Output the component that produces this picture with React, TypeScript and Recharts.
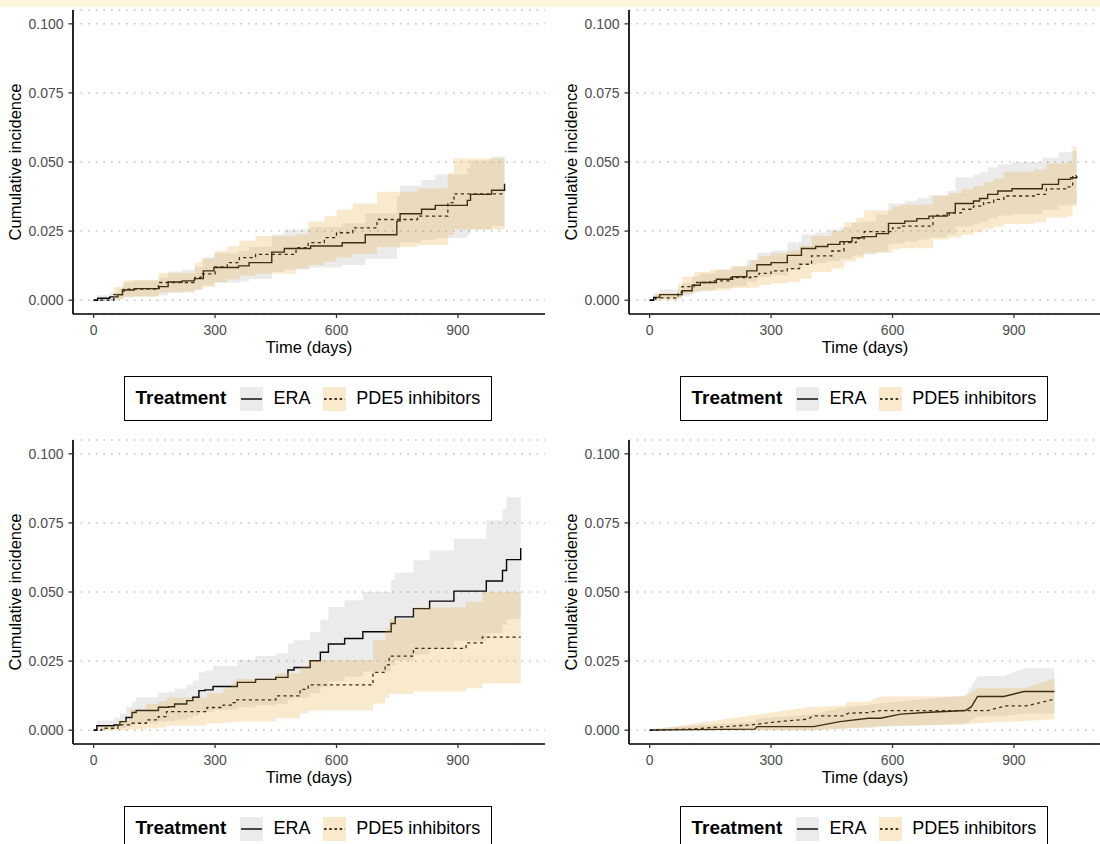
import React from 'react';
import { ComposedChart, Line, Area, XAxis, YAxis, CartesianGrid } from 'recharts';

// ---------- tick labels / axes ----------
const xTicks = [0, 300, 600, 900];
const yTicks = [0, 0.025, 0.05, 0.075, 0.1];
const seriesNames = ['ERA', 'PDE5 inhibitors'];
const legendTitle = 'Treatment';
const xTitle = 'Time (days)';
const yTitle = 'Cumulative incidence';

// ---------- Panel 1 (top left) ----------
const p1EraT = [0, 10, 40, 60, 71, 100, 162, 184, 219, 249, 271, 297, 358, 384, 440, 471, 536, 614, 671, 749, 757, 810, 844, 923, 931, 983, 1015];
const p1EraEst = [0, 0.0007, 0.0012, 0.002, 0.0037, 0.0042, 0.0049, 0.0066, 0.007, 0.0078, 0.0106, 0.0118, 0.0124, 0.0136, 0.0174, 0.0187, 0.0196, 0.0208, 0.0237, 0.0286, 0.0313, 0.0329, 0.0343, 0.0361, 0.0383, 0.0398, 0.0421];
const p1EraLo = [0, 0, 0.0001, 0.0004, 0.0011, 0.0014, 0.0018, 0.0028, 0.0031, 0.0037, 0.0055, 0.0063, 0.0068, 0.0077, 0.0102, 0.0111, 0.0118, 0.0127, 0.0149, 0.0187, 0.0208, 0.0218, 0.0225, 0.0235, 0.0255, 0.0268, 0.0285];
const p1EraHi = [0, 0.0018, 0.0028, 0.0042, 0.0065, 0.0072, 0.0082, 0.0104, 0.011, 0.012, 0.0155, 0.017, 0.0178, 0.0193, 0.0238, 0.0256, 0.0265, 0.0278, 0.0315, 0.0375, 0.0415, 0.0435, 0.0455, 0.0478, 0.0505, 0.052, 0.0557];
const p1PdeT = [0, 50, 75, 160, 250, 265, 300, 330, 360, 400, 500, 530, 570, 600, 640, 700, 800, 875, 890, 1015];
const p1PdeEst = [0, 0.002, 0.004, 0.0064, 0.0082, 0.0095, 0.012, 0.0136, 0.0154, 0.0166, 0.019, 0.0208, 0.0226, 0.0244, 0.0262, 0.0292, 0.0304, 0.0353, 0.0385, 0.0385];
const p1PdeLo = [0, 0.0002, 0.0012, 0.0028, 0.004, 0.0048, 0.0065, 0.0076, 0.0088, 0.0096, 0.0114, 0.0127, 0.014, 0.0154, 0.0168, 0.0192, 0.02, 0.0236, 0.0256, 0.0256];
const p1PdeHi = [0, 0.0048, 0.0072, 0.0098, 0.0135, 0.015, 0.0178, 0.0195, 0.0215, 0.0232, 0.0238, 0.0285, 0.0305, 0.0328, 0.035, 0.0392, 0.0405, 0.046, 0.0513, 0.0513];

// ---------- Panel 2 (top right) ----------
const p2EraT = [0, 10, 25, 80, 105, 125, 165, 205, 240, 265, 300, 340, 375, 410, 440, 470, 500, 525, 560, 590, 630, 660, 690, 735, 755, 800, 815, 835, 860, 895, 970, 1010, 1040, 1055];
const p2EraEst = [0, 0.001, 0.002, 0.0034, 0.0054, 0.0064, 0.0076, 0.0085, 0.0106, 0.0128, 0.0136, 0.0162, 0.0187, 0.0194, 0.0202, 0.0212, 0.0226, 0.023, 0.0241, 0.0278, 0.0286, 0.0295, 0.0304, 0.0316, 0.035, 0.0359, 0.0368, 0.0383, 0.0395, 0.0403, 0.0419, 0.0437, 0.0443, 0.0449];
const p2EraLo = [0, 0, 0.0005, 0.0014, 0.0028, 0.0035, 0.0044, 0.0051, 0.0067, 0.0084, 0.009, 0.011, 0.013, 0.0135, 0.0142, 0.015, 0.0162, 0.0165, 0.0174, 0.0205, 0.0212, 0.022, 0.0228, 0.0238, 0.0267, 0.0275, 0.0283, 0.0296, 0.0306, 0.0313, 0.0327, 0.0343, 0.0348, 0.0353];
const p2EraHi = [0, 0.0025, 0.004, 0.006, 0.0085, 0.0097, 0.011, 0.012, 0.0145, 0.0172, 0.018, 0.021, 0.0238, 0.0245, 0.0255, 0.0265, 0.028, 0.0285, 0.031, 0.035, 0.036, 0.037, 0.038, 0.0395, 0.0445, 0.0455, 0.0463, 0.048, 0.0492, 0.05, 0.0515, 0.0535, 0.054, 0.0547];
const p2PdeT = [0, 15, 70, 80, 110, 150, 200, 250, 270, 300, 340, 370, 400, 450, 480, 510, 530, 600, 620, 700, 740, 770, 800, 825, 850, 875, 950, 980, 1030, 1045, 1055];
const p2PdeEst = [0, 0.0008, 0.0028, 0.0049, 0.0064, 0.007, 0.0082, 0.0085, 0.0097, 0.0106, 0.0114, 0.013, 0.016, 0.0178, 0.0208, 0.0223, 0.0248, 0.0262, 0.0268, 0.0307, 0.0316, 0.0329, 0.034, 0.0353, 0.0365, 0.0377, 0.0383, 0.0403, 0.041, 0.0451, 0.0451];
const p2PdeLo = [0, 0, 0.0008, 0.0022, 0.0032, 0.0036, 0.0044, 0.0046, 0.0055, 0.0061, 0.0066, 0.0078, 0.0102, 0.0115, 0.014, 0.0152, 0.0172, 0.0183, 0.0188, 0.022, 0.0227, 0.0237, 0.0246, 0.0256, 0.0266, 0.0276, 0.0281, 0.0298, 0.0304, 0.034, 0.034];
const p2PdeHi = [0, 0.0025, 0.0058, 0.0085, 0.0102, 0.011, 0.0125, 0.0145, 0.016, 0.017, 0.018, 0.0198, 0.0232, 0.025, 0.0282, 0.0298, 0.0325, 0.0338, 0.0345, 0.0378, 0.0388, 0.0401, 0.0413, 0.0428, 0.044, 0.0465, 0.0472, 0.0495, 0.0503, 0.0557, 0.057];

// ---------- Panel 3 (bottom left) ----------
const p3EraT = [0, 8, 50, 65, 80, 95, 105, 160, 185, 200, 230, 245, 260, 275, 295, 355, 400, 450, 480, 495, 535, 560, 580, 620, 665, 735, 745, 790, 830, 890, 970, 1010, 1020, 1055];
const p3EraEst = [0, 0.0016, 0.0019, 0.0031, 0.0046, 0.0064, 0.0071, 0.0083, 0.0085, 0.0095, 0.0107, 0.0119, 0.0143, 0.0146, 0.0158, 0.0173, 0.0184, 0.0191, 0.0218, 0.0227, 0.0251, 0.0282, 0.0312, 0.0332, 0.0356, 0.0386, 0.041, 0.044, 0.0467, 0.0503, 0.054, 0.0578, 0.0617, 0.0659];
const p3EraLo = [0, 0.0002, 0.0003, 0.0008, 0.0014, 0.0021, 0.0024, 0.0031, 0.0032, 0.0038, 0.0045, 0.0052, 0.0065, 0.0067, 0.0074, 0.0083, 0.009, 0.0095, 0.0112, 0.0118, 0.0134, 0.0155, 0.0178, 0.0193, 0.0211, 0.0233, 0.0252, 0.0274, 0.0295, 0.0323, 0.0352, 0.0382, 0.0402, 0.0416];
const p3EraHi = [0, 0.0035, 0.0045, 0.006, 0.0085, 0.0105, 0.0119, 0.0135, 0.0138, 0.015, 0.0165, 0.018, 0.021, 0.0215, 0.0232, 0.0255, 0.0268, 0.0278, 0.0315, 0.0325, 0.0355, 0.04, 0.0446, 0.047, 0.05, 0.0545, 0.057, 0.0615, 0.065, 0.0693, 0.076, 0.08, 0.0843, 0.09];
const p3PdeT = [0, 20, 60, 90, 130, 160, 180, 280, 320, 340, 350, 450, 510, 530, 690, 720, 730, 790, 920, 960, 1055];
const p3PdeEst = [0, 0.0007, 0.0019, 0.0025, 0.0037, 0.0049, 0.0067, 0.0082, 0.0091, 0.01, 0.011, 0.0124, 0.0148, 0.0164, 0.0209, 0.0236, 0.0268, 0.0296, 0.0316, 0.0337, 0.0337];
const p3PdeLo = [0, 0, 0, 0.0003, 0.0007, 0.001, 0.0016, 0.0025, 0.0028, 0.003, 0.0031, 0.0043, 0.006, 0.0071, 0.0097, 0.0118, 0.0131, 0.014, 0.0152, 0.017, 0.017];
const p3PdeHi = [0, 0.0015, 0.0035, 0.0075, 0.0095, 0.0105, 0.0118, 0.0134, 0.015, 0.017, 0.0185, 0.0206, 0.023, 0.0254, 0.0326, 0.0368, 0.0402, 0.0444, 0.0465, 0.05, 0.05];

// ---------- Panel 4 (bottom right) ----------
const p4EraT = [0, 20, 260, 265, 405, 470, 540, 570, 620, 680, 780, 795, 810, 875, 925, 1000];
const p4EraEst = [0, 0.0001, 0.0004, 0.0013, 0.0013, 0.0031, 0.0043, 0.0043, 0.0058, 0.0064, 0.0071, 0.0085, 0.0122, 0.0122, 0.014, 0.014];
const p4EraBandT = [0, 20, 260, 265, 405, 470, 540, 620, 680, 780, 795, 810, 875, 925, 1000];
const p4EraLo = [0, 0, 0, 0, 0, 0.0005, 0.0009, 0.0015, 0.0018, 0.0025, 0.0035, 0.005, 0.005, 0.006, 0.006];
const p4EraHi = [0.0002, 0.0008, 0.003, 0.0042, 0.0058, 0.008, 0.0092, 0.0105, 0.0112, 0.0126, 0.0158, 0.0196, 0.0196, 0.0224, 0.0224];
const p4PdeT = [0, 100, 250, 320, 390, 405, 480, 490, 540, 570, 780, 835, 880, 930, 1000];
const p4PdeEst = [0, 0.0004, 0.0019, 0.0031, 0.004, 0.0052, 0.0052, 0.0061, 0.0064, 0.0071, 0.0071, 0.0071, 0.0088, 0.0088, 0.0112];
const p4PdeBandT = [0, 400, 480, 490, 540, 570, 780, 810, 925, 1000];
const p4PdeLo = [0, 0, 0.0005, 0.0008, 0.001, 0.0015, 0.002, 0.0025, 0.0033, 0.004];
const p4PdeHi = [0, 0.0085, 0.0088, 0.0103, 0.0103, 0.0122, 0.0122, 0.0152, 0.0152, 0.0188];

// ---------- helpers ----------
const lineRows = (t: number[], v: number[]) => t.map((x, i) => ({ t: x, v: v[i] }));
const bandRows = (t: number[], lo: number[], hi: number[]) => t.map((x, i) => ({ t: x, band: [lo[i], hi[i]] }));

const ERA_FILL = '#373737';
const ERA_OP = 0.1;
const PDE_FILL = '#E9AD3A';
const PDE_OP = 0.25;
const FONT = '"Liberation Sans", Arial, sans-serif';

type PanelDef = {
  left: number;
  top: number;
  curve: 'stepAfter' | 'linear';
  eraLine: any[];
  eraBand: any[];
  pdeLine: any[];
  pdeBand: any[];
};

const panels: PanelDef[] = [
  {
    left: 0, top: 0, curve: 'stepAfter',
    eraLine: lineRows(p1EraT, p1EraEst), eraBand: bandRows(p1EraT, p1EraLo, p1EraHi),
    pdeLine: lineRows(p1PdeT, p1PdeEst), pdeBand: bandRows(p1PdeT, p1PdeLo, p1PdeHi),
  },
  {
    left: 556, top: 0, curve: 'stepAfter',
    eraLine: lineRows(p2EraT, p2EraEst), eraBand: bandRows(p2EraT, p2EraLo, p2EraHi),
    pdeLine: lineRows(p2PdeT, p2PdeEst), pdeBand: bandRows(p2PdeT, p2PdeLo, p2PdeHi),
  },
  {
    left: 0, top: 430, curve: 'stepAfter',
    eraLine: lineRows(p3EraT, p3EraEst), eraBand: bandRows(p3EraT, p3EraLo, p3EraHi),
    pdeLine: lineRows(p3PdeT, p3PdeEst), pdeBand: bandRows(p3PdeT, p3PdeLo, p3PdeHi),
  },
  {
    left: 556, top: 430, curve: 'linear',
    eraLine: lineRows(p4EraT, p4EraEst), eraBand: bandRows(p4EraBandT, p4EraLo, p4EraHi),
    pdeLine: lineRows(p4PdeT, p4PdeEst), pdeBand: bandRows(p4PdeBandT, p4PdeLo, p4PdeHi),
  },
];

const Swatch = ({ fill, dash }: { fill: string; dash?: string }) => (
  <svg width={23} height={24} style={{ display: 'block' }}>
    <rect x={0} y={0} width={23} height={24} fill={fill} />
    <line x1={1} x2={22} y1={12} y2={12} stroke="#000" strokeWidth={1.4} strokeDasharray={dash} />
  </svg>
);

const LegendBox = ({ left, top }: { left: number; top: number }) => (
  <div
    style={{
      position: 'absolute', left: left + 124, top: top + 376, width: 368, height: 45,
      border: '1.5px solid #000', boxSizing: 'border-box', fontFamily: FONT, fontSize: 18, color: '#000',
    }}
  >
    <div style={{ position: 'absolute', left: 10.5, top: 10, fontWeight: 'bold', fontSize: 19, lineHeight: '22px' }}>{legendTitle}</div>
    <div style={{ position: 'absolute', left: 115.2, top: 9.5 }}><Swatch fill="#EBEBEB" /></div>
    <div style={{ position: 'absolute', left: 148.5, top: 10, lineHeight: '22px' }}>{seriesNames[0]}</div>
    <div style={{ position: 'absolute', left: 197.5, top: 9.5 }}><Swatch fill="#FAEACB" dash="2.6 2.6" /></div>
    <div style={{ position: 'absolute', left: 231.2, top: 10, lineHeight: '22px' }}>{seriesNames[1]}</div>
  </div>
);

const Panel = ({ p }: { p: PanelDef }) => (
  <div style={{ position: 'absolute', left: p.left, top: p.top }}>
    <ComposedChart width={550} height={359} margin={{ top: 10, right: 5, left: 13, bottom: 0 }}>
      <CartesianGrid vertical={false} stroke="#C2C2C2" strokeDasharray="1.6 6" strokeWidth={1.5} />
      <XAxis
        type="number"
        dataKey="t"
        domain={[-51, 1115]}
        ticks={xTicks}
        allowDataOverflow
        height={45}
        tickSize={4}
        tickMargin={7}
        axisLine={{ stroke: '#000', strokeWidth: 1.7 }}
        tickLine={{ stroke: '#333', strokeWidth: 1.3 }}
        tick={{ fontSize: 14, fill: '#4D4D4D' }}
        label={{ value: xTitle, position: 'insideBottom', offset: 6.5, fill: '#000', fontSize: 16.5 }}
      />
      <YAxis
        type="number"
        domain={[-0.005, 0.105]}
        ticks={yTicks}
        allowDataOverflow
        width={60}
        tickSize={4.5}
        tickMargin={5}
        tickFormatter={(v: number) => v.toFixed(3)}
        axisLine={{ stroke: '#000', strokeWidth: 1.7 }}
        tickLine={{ stroke: '#333', strokeWidth: 1.3 }}
        tick={{ fontSize: 14, fill: '#4D4D4D' }}
        label={{ value: yTitle, angle: -90, position: 'insideLeft', offset: 2, fill: '#000', fontSize: 16.5, style: { textAnchor: 'middle' } }}
      />
      <Line data={p.eraLine} dataKey="v" type={p.curve} stroke="#000" strokeWidth={1.4} dot={false} activeDot={false} isAnimationActive={false} zIndex={400} />
      <Line data={p.pdeLine} dataKey="v" type={p.curve} stroke="#000" strokeWidth={1.3} strokeDasharray="3.2 3.2" dot={false} activeDot={false} isAnimationActive={false} zIndex={400} />
      <Area data={p.eraBand} dataKey="band" type={p.curve} fill={ERA_FILL} fillOpacity={ERA_OP} stroke="none" dot={false} activeDot={false} isAnimationActive={false} zIndex={450} />
      <Area data={p.pdeBand} dataKey="band" type={p.curve} fill={PDE_FILL} fillOpacity={PDE_OP} stroke="none" dot={false} activeDot={false} isAnimationActive={false} zIndex={451} />
    </ComposedChart>
  </div>
);

export default function App() {
  return (
    <div
      style={{
        position: 'absolute', left: 0, top: 0, width: 1100, height: 844, overflow: 'hidden',
        background: '#FFFFFF', fontFamily: FONT,
      }}
    >
      <div style={{ position: 'absolute', left: 0, top: 0, width: 1100, height: 6.5, background: '#FFF7DA' }} />
      {panels.map((p, i) => (
        <React.Fragment key={i}>
          <Panel p={p} />
          <LegendBox left={p.left} top={p.top} />
        </React.Fragment>
      ))}
    </div>
  );
}
